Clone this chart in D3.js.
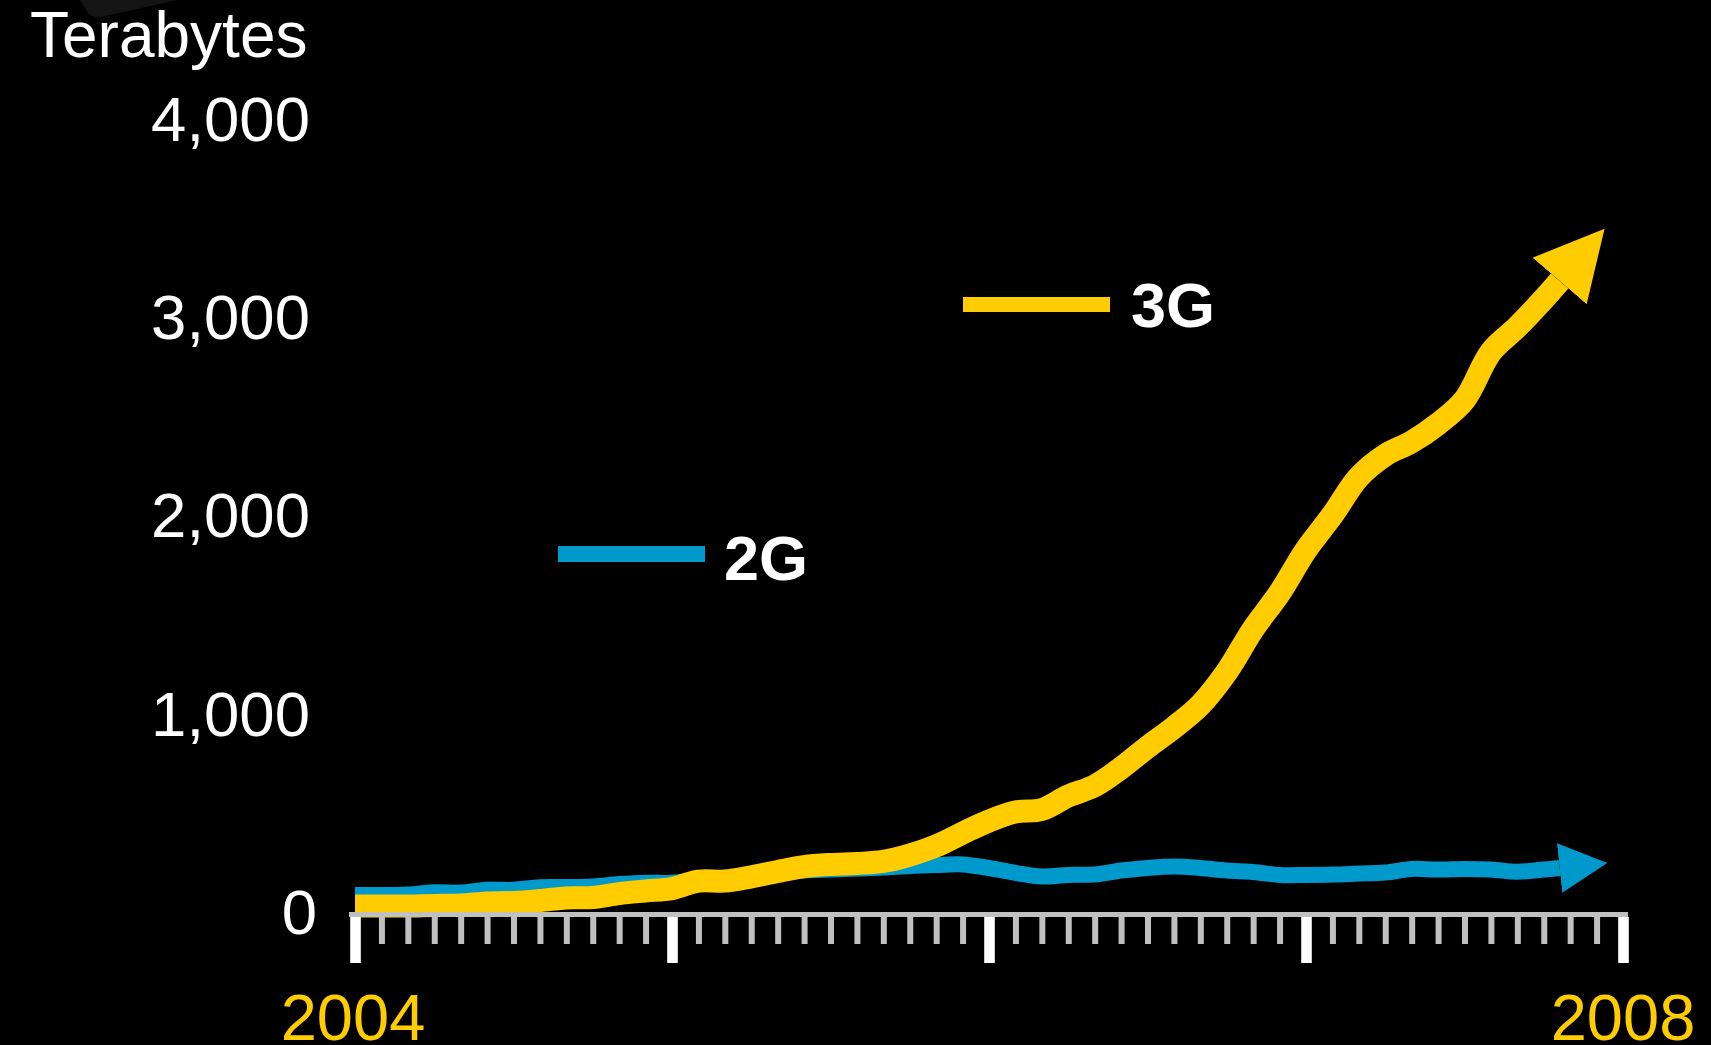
<!DOCTYPE html>
<html>
<head>
<meta charset="utf-8">
<script src="https://cdn.jsdelivr.net/npm/d3@7"></script>
<style>
  body { margin: 0; background: #000; }
  svg { display: block; font-family: "Liberation Sans", Arial, sans-serif; }
</style>
</head>
<body>
<div id="chart"></div>
<script>
// months counted from Jan 2004 (0) to Jan 2008 (48); last point is where the arrow starts
const months = d3.range(0, 46).concat([45.6]);

// Terabytes per month
const traffic2G = [81, 81, 83, 94, 93, 107, 107, 120, 121, 124, 136, 143, 142, 156, 166, 177,
    189, 204, 209, 214, 219, 227, 232, 235, 217, 192, 174, 182, 184, 204, 217, 224,
    217, 204, 197, 182, 182, 184, 189, 194, 212, 209, 212, 209, 198, 209, 217];
const traffic3G = [25, 25, 25, 28, 30, 40, 43, 53, 66, 68, 88, 101, 113, 151, 151, 172,
    199, 224, 235, 240, 250, 282, 328, 393, 454, 499, 512, 580, 631, 721, 827, 926,
    1039, 1206, 1422, 1604, 1821, 1997, 2189, 2300, 2366, 2457, 2578, 2820, 2946, 3087, 3178];

const yTicks = [0, 1000, 2000, 3000, 4000];
const yearTicks = [0, 12, 24, 36, 48];
const yearLabels = ["2004", "2008"];
const seriesNames = ["2G", "3G"];
const seriesColors = ["#0099CC", "#FFCC00"];

const width = 1711, height = 1045;

const svg = d3.select("#chart")
    .append("svg")
    .attr("width", width)
    .attr("height", height)
    .style("background", "#000");

// faint shape left over in the top corner of the slide
svg.append("path")
    .attr("d", "M80,0 L88,13 Q92,18 101,17 L177,0 Z")
    .attr("fill", "#141414");

const x = d3.scaleLinear().domain([0, 48]).range([355, 1623]);
const y = d3.scaleLinear().domain([0, 4000]).range([911, 118]);

// arrow heads
const defs = svg.append("defs");
seriesNames.forEach((name, i) => {
    defs.append("marker")
        .attr("id", "arrow" + name)
        .attr("viewBox", "0 -1.55 3 3.1")
        .attr("markerWidth", 3)
        .attr("markerHeight", 3.1)
        .attr("refX", 0)
        .attr("refY", 0)
        .attr("orient", "auto")
        .attr("markerUnits", "strokeWidth")
        .append("path")
        .attr("d", "M0,-1.55L3,0L0,1.55Z")
        .attr("fill", seriesColors[i]);
});

// y labels
svg.append("text")
    .attr("x", 30)
    .attr("y", 57)
    .attr("fill", "#fff")
    .attr("font-size", 64)
    .text("Terabytes");

svg.append("g")
    .selectAll("text")
    .data(yTicks)
    .enter()
    .append("text")
    .attr("x", 310)
    .attr("dx", d => d === 0 ? 7 : 0)
    .attr("y", d => y(d))
    .attr("dy", "0.36em")
    .attr("text-anchor", "end")
    .attr("fill", "#fff")
    .attr("font-size", 63.5)
    .text(d => d3.format(",")(d));

// lines
const line = d3.line()
    .x((d, i) => x(months[i]))
    .y(d => y(d))
    .curve(d3.curveCatmullRom.alpha(0.5));

[traffic2G, traffic3G].forEach((values, i) => {
    svg.append("path")
        .datum(values)
        .attr("d", line)
        .attr("fill", "none")
        .attr("stroke", seriesColors[i])
        .attr("stroke-width", i === 0 ? 16 : 23)
        .attr("stroke-linejoin", "round")
        .attr("marker-end", `url(#arrow${seriesNames[i]})`);
});

// x axis: baseline, monthly ticks, yearly ticks
const axisY = y(0) + 6;

const minorAxis = d3.axisBottom(x)
    .tickValues(d3.range(0, 49).filter(m => m % 12 !== 0))
    .tickSize(27)
    .tickFormat("");
const majorAxis = d3.axisBottom(x)
    .tickValues(yearTicks)
    .tickSize(46)
    .tickFormat("");

const minorG = svg.append("g").attr("transform", `translate(0,${axisY})`).call(minorAxis);
const majorG = svg.append("g").attr("transform", `translate(0,${axisY})`).call(majorAxis);
minorG.select(".domain").remove();
majorG.select(".domain").remove();
minorG.selectAll(".tick line").attr("stroke", "#C0C0C0").attr("stroke-width", 6);
majorG.selectAll(".tick line").attr("stroke", "#fff").attr("stroke-width", 10.6);

svg.append("line")
    .attr("x1", x(0) - 6)
    .attr("x2", x(48) + 5)
    .attr("y1", axisY - 2.5)
    .attr("y2", axisY - 2.5)
    .attr("stroke", "#C0C0C0")
    .attr("stroke-width", 5);

svg.append("g")
    .selectAll("text")
    .data([yearTicks[0], yearTicks[yearTicks.length - 1]])
    .enter()
    .append("text")
    .attr("x", (d, i) => x(d) - (i === 0 ? 2 : 0))
    .attr("y", 1040)
    .attr("text-anchor", "middle")
    .attr("fill", "#FFCC00")
    .attr("font-size", 65)
    .text((d, i) => yearLabels[i]);

// legend keys next to the lines
const legendPos = [{x: 558, y: 546, tx: 724, ty: 580, h: 16}, {x: 963, y: 297, tx: 1131, ty: 327, h: 15}];
seriesNames.forEach((name, i) => {
    const p = legendPos[i];
    svg.append("rect")
        .attr("x", p.x)
        .attr("y", p.y)
        .attr("width", 147)
        .attr("height", p.h)
        .attr("fill", seriesColors[i]);
    svg.append("text")
        .attr("x", p.tx)
        .attr("y", p.ty)
        .attr("fill", "#fff")
        .attr("font-size", 63)
        .attr("font-weight", "bold")
        .text(name);
});
</script>
</body>
</html>
